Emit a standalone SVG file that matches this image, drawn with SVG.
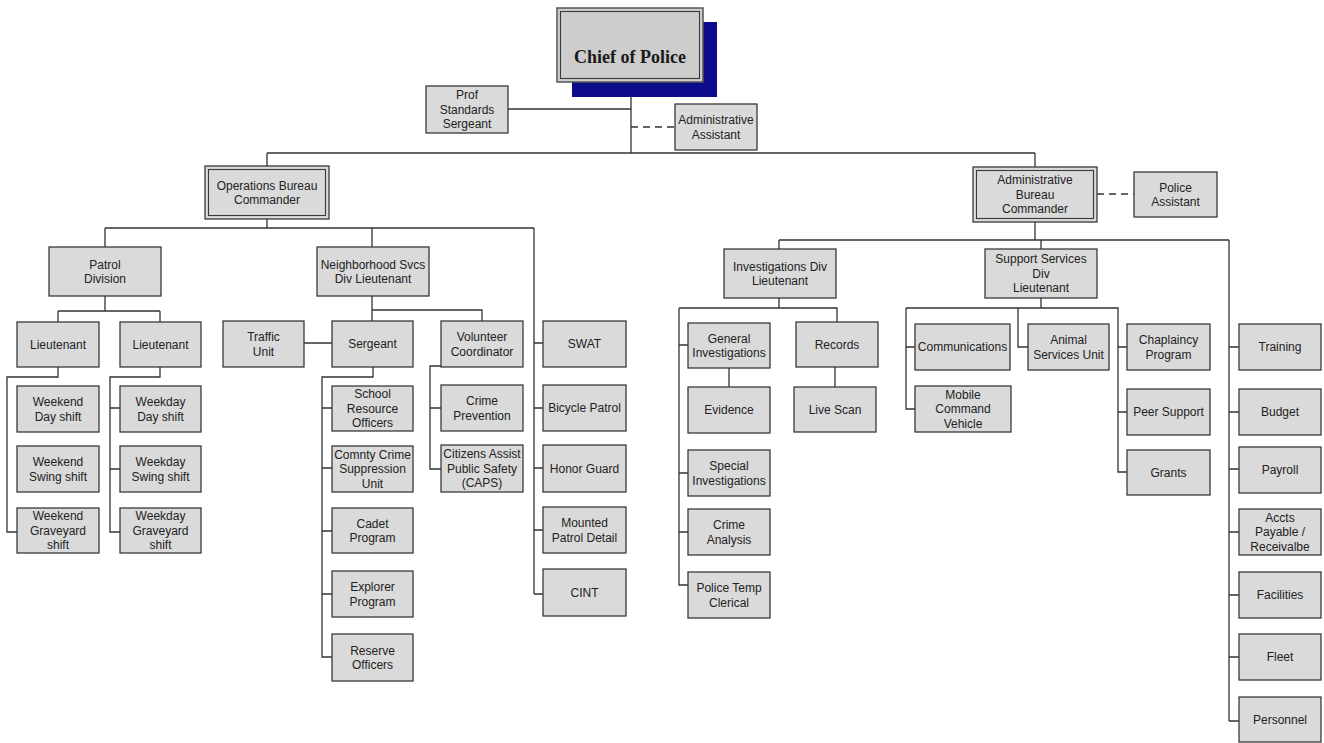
<svg xmlns="http://www.w3.org/2000/svg" width="1324" height="743" viewBox="0 0 1324 743">
<style>
  .box { fill: #dadada; stroke: #3a3a3a; stroke-width: 1.3; }
  .inner { fill: none; stroke: #3a3a3a; stroke-width: 1.1; }
  .lbl { font-family: "Liberation Sans", Arial, sans-serif; font-size: 12px; fill: #222; text-anchor: middle; }
  .chief { font-family: "Liberation Serif", "Times New Roman", serif; font-size: 18px; font-weight: bold; fill: #1a1a1a; text-anchor: middle; }
  .wire { fill: none; stroke: #333; stroke-width: 1.3; }
  .dash { fill: none; stroke: #333; stroke-width: 1.3; stroke-dasharray: 7 5; }
</style>
<rect width="1324" height="743" fill="#ffffff"/>

<!-- reporting lines -->
<g id="connectors">
  <path class="wire" d="M631,82 V153 M267,153 H1035 M267,153 V166 M1035,153 V167 M508,109 H631"/>
  <path class="dash" d="M631,127 H675"/>
  <path class="dash" d="M1097,194 H1134"/>
  <!-- operations bureau -->
  <path class="wire" d="M267,219 V228 M105,228 H534 M105,228 V247 M372,228 V247 M534,228 V594"/>
  <path class="wire" d="M534,343 H543 M534,408 H543 M534,468 H543 M534,530 H543 M534,594 H543"/>
  <path class="wire" d="M105,296 V311 M58,311 H160 M58,311 V322 M160,311 V322"/>
  <path class="wire" d="M58,367 V377 H7 V532 H17"/>
  <path class="wire" d="M160,367 V377 H110 V532 H120 M110,408 H120 M110,469 H120"/>
  <path class="wire" d="M372,296 V310 H482 V321 M372,310 V321 M304,343 H332"/>
  <path class="wire" d="M373,367 V377 H322 V657 H332 M322,408 H332 M322,468 H332 M322,531 H332 M322,594 H332"/>
  <path class="wire" d="M441,366 H430 V469 H441 M430,408 H441"/>
  <!-- administrative bureau -->
  <path class="wire" d="M1035,222 V240 M779,240 H1229 M779,240 V249 M1041,240 V249 M1229,240 V721"/>
  <path class="wire" d="M1229,347 H1239 M1229,412 H1239 M1229,469 H1239 M1229,532 H1239 M1229,595 H1239 M1229,657 H1239 M1229,721 H1239"/>
  <path class="wire" d="M779,298 V308 M679,308 H837 V322 M679,308 V585 H688 M679,345 H688 M679,473 H688 M679,532 H688"/>
  <path class="wire" d="M729,368 V387 M835,367 V387"/>
  <path class="wire" d="M1041,298 V308 M906,308 H1118 V472 H1127 M906,308 V409 H915 M906,347 H915 M1018,308 V347 H1028 M1118,347 H1127 M1118,412 H1127"/>
</g>

<g id="chief-of-police">
  <rect x="572" y="22" width="145" height="75" fill="#0c0c8a"/>
  <rect x="557" y="8" width="146" height="74" fill="#cdcdcd" stroke="#555" stroke-width="1.5"/>
  <rect x="560.5" y="11.5" width="139" height="67" class="inner"/>
  <text class="chief" x="630" y="63">Chief of Police</text>
</g>

<g id="prof-standards-sergeant">
  <rect class="box" x="426" y="86" width="82" height="47"/>
  <text class="lbl"><tspan x="467" y="99.3">Prof</tspan><tspan x="467" y="113.8">Standards</tspan><tspan x="467" y="128.3">Sergeant</tspan></text>
</g>

<g id="administrative-assistant">
  <rect class="box" x="675" y="104" width="82" height="46"/>
  <text class="lbl"><tspan x="716" y="124">Administrative</tspan><tspan x="716" y="138.5">Assistant</tspan></text>
</g>

<g id="operations-bureau-commander">
  <rect class="box" x="205" y="166" width="124" height="53"/>
  <rect class="inner" x="208.5" y="169.5" width="117" height="46"/>
  <text class="lbl"><tspan x="267" y="189.5">Operations Bureau</tspan><tspan x="267" y="204">Commander</tspan></text>
</g>

<g id="administrative-bureau-commander">
  <rect class="box" x="973" y="167" width="124" height="55"/>
  <rect class="inner" x="976.5" y="170.5" width="117" height="48"/>
  <text class="lbl"><tspan x="1035" y="184.3">Administrative</tspan><tspan x="1035" y="198.8">Bureau</tspan><tspan x="1035" y="213.3">Commander</tspan></text>
</g>

<g id="police-assistant">
  <rect class="box" x="1134" y="172" width="83" height="45"/>
  <text class="lbl"><tspan x="1175.5" y="191.5">Police</tspan><tspan x="1175.5" y="206">Assistant</tspan></text>
</g>

<g id="patrol-division">
  <rect class="box" x="49" y="247" width="112" height="49"/>
  <text class="lbl"><tspan x="105" y="268.5">Patrol</tspan><tspan x="105" y="283">Division</tspan></text>
</g>

<g id="neighborhood-svcs">
  <rect class="box" x="317" y="247" width="112" height="49"/>
  <text class="lbl"><tspan x="373" y="268.5">Neighborhood Svcs</tspan><tspan x="373" y="283">Div Lieutenant</tspan></text>
</g>

<g id="lieutenant-weekend">
  <rect class="box" x="17" y="322" width="82" height="45"/>
  <text class="lbl" x="58" y="348.8">Lieutenant</text>
</g>
<g id="lieutenant-weekday">
  <rect class="box" x="120" y="322" width="81" height="45"/>
  <text class="lbl" x="160.5" y="348.8">Lieutenant</text>
</g>

<g id="weekend-day-shift">
  <rect class="box" x="17" y="386" width="82" height="46"/>
  <text class="lbl"><tspan x="58" y="406">Weekend</tspan><tspan x="58" y="420.5">Day shift</tspan></text>
</g>
<g id="weekend-swing-shift">
  <rect class="box" x="17" y="446" width="82" height="46"/>
  <text class="lbl"><tspan x="58" y="466">Weekend</tspan><tspan x="58" y="480.5">Swing shift</tspan></text>
</g>
<g id="weekend-graveyard-shift">
  <rect class="box" x="17" y="508" width="82" height="45"/>
  <text class="lbl"><tspan x="58" y="520.3">Weekend</tspan><tspan x="58" y="534.8">Graveyard</tspan><tspan x="58" y="549.3">shift</tspan></text>
</g>
<g id="weekday-day-shift">
  <rect class="box" x="120" y="386" width="81" height="46"/>
  <text class="lbl"><tspan x="160.5" y="406">Weekday</tspan><tspan x="160.5" y="420.5">Day shift</tspan></text>
</g>
<g id="weekday-swing-shift">
  <rect class="box" x="120" y="446" width="81" height="46"/>
  <text class="lbl"><tspan x="160.5" y="466">Weekday</tspan><tspan x="160.5" y="480.5">Swing shift</tspan></text>
</g>
<g id="weekday-graveyard-shift">
  <rect class="box" x="120" y="508" width="81" height="45"/>
  <text class="lbl"><tspan x="160.5" y="520.3">Weekday</tspan><tspan x="160.5" y="534.8">Graveyard</tspan><tspan x="160.5" y="549.3">shift</tspan></text>
</g>

<g id="traffic-unit">
  <rect class="box" x="223" y="321" width="81" height="46"/>
  <text class="lbl"><tspan x="263.5" y="341">Traffic</tspan><tspan x="263.5" y="355.5">Unit</tspan></text>
</g>
<g id="sergeant">
  <rect class="box" x="332" y="321" width="81" height="46"/>
  <text class="lbl" x="372.5" y="348.3">Sergeant</text>
</g>
<g id="volunteer-coordinator">
  <rect class="box" x="441" y="321" width="82" height="46"/>
  <text class="lbl"><tspan x="482" y="341">Volunteer</tspan><tspan x="482" y="355.5">Coordinator</tspan></text>
</g>
<g id="swat">
  <rect class="box" x="543" y="321" width="83" height="46"/>
  <text class="lbl" x="584.5" y="348.3">SWAT</text>
</g>

<g id="school-resource-officers">
  <rect class="box" x="332" y="386" width="81" height="45"/>
  <text class="lbl"><tspan x="372.5" y="398.3">School</tspan><tspan x="372.5" y="412.8">Resource</tspan><tspan x="372.5" y="427.3">Officers</tspan></text>
</g>
<g id="comnty-crime-suppression">
  <rect class="box" x="332" y="446" width="81" height="46"/>
  <text class="lbl"><tspan x="372.5" y="458.8">Comnty Crime</tspan><tspan x="372.5" y="473.3">Suppression</tspan><tspan x="372.5" y="487.8">Unit</tspan></text>
</g>
<g id="cadet-program">
  <rect class="box" x="332" y="508" width="81" height="45"/>
  <text class="lbl"><tspan x="372.5" y="527.5">Cadet</tspan><tspan x="372.5" y="542">Program</tspan></text>
</g>
<g id="explorer-program">
  <rect class="box" x="332" y="571" width="81" height="46"/>
  <text class="lbl"><tspan x="372.5" y="591">Explorer</tspan><tspan x="372.5" y="605.5">Program</tspan></text>
</g>
<g id="reserve-officers">
  <rect class="box" x="332" y="634" width="81" height="47"/>
  <text class="lbl"><tspan x="372.5" y="654.5">Reserve</tspan><tspan x="372.5" y="669">Officers</tspan></text>
</g>

<g id="crime-prevention">
  <rect class="box" x="441" y="385" width="82" height="46"/>
  <text class="lbl"><tspan x="482" y="405">Crime</tspan><tspan x="482" y="419.5">Prevention</tspan></text>
</g>
<g id="caps">
  <rect class="box" x="441" y="445" width="82" height="47"/>
  <text class="lbl"><tspan x="482" y="458.3">Citizens Assist</tspan><tspan x="482" y="472.8">Public Safety</tspan><tspan x="482" y="487.3">(CAPS)</tspan></text>
</g>

<g id="bicycle-patrol">
  <rect class="box" x="543" y="385" width="83" height="46"/>
  <text class="lbl" x="584.5" y="412.3">Bicycle Patrol</text>
</g>
<g id="honor-guard">
  <rect class="box" x="543" y="445" width="83" height="47"/>
  <text class="lbl" x="584.5" y="472.8">Honor Guard</text>
</g>
<g id="mounted-patrol-detail">
  <rect class="box" x="543" y="507" width="83" height="46"/>
  <text class="lbl"><tspan x="584.5" y="527">Mounted</tspan><tspan x="584.5" y="541.5">Patrol Detail</tspan></text>
</g>
<g id="cint">
  <rect class="box" x="543" y="569" width="83" height="47"/>
  <text class="lbl" x="584.5" y="596.8">CINT</text>
</g>

<g id="investigations-div">
  <rect class="box" x="724" y="249" width="112" height="49"/>
  <text class="lbl"><tspan x="780" y="270.5">Investigations Div</tspan><tspan x="780" y="285">Lieutenant</tspan></text>
</g>
<g id="support-services-div">
  <rect class="box" x="985" y="249" width="112" height="49"/>
  <text class="lbl"><tspan x="1041" y="263.3">Support Services</tspan><tspan x="1041" y="277.8">Div</tspan><tspan x="1041" y="292.3">Lieutenant</tspan></text>
</g>

<g id="general-investigations">
  <rect class="box" x="688" y="323" width="82" height="45"/>
  <text class="lbl"><tspan x="729" y="342.5">General</tspan><tspan x="729" y="357">Investigations</tspan></text>
</g>
<g id="evidence">
  <rect class="box" x="688" y="387" width="82" height="46"/>
  <text class="lbl" x="729" y="414.3">Evidence</text>
</g>
<g id="special-investigations">
  <rect class="box" x="688" y="450" width="82" height="46"/>
  <text class="lbl"><tspan x="729" y="470">Special</tspan><tspan x="729" y="484.5">Investigations</tspan></text>
</g>
<g id="crime-analysis">
  <rect class="box" x="688" y="509" width="82" height="46"/>
  <text class="lbl"><tspan x="729" y="529">Crime</tspan><tspan x="729" y="543.5">Analysis</tspan></text>
</g>
<g id="police-temp-clerical">
  <rect class="box" x="688" y="572" width="82" height="46"/>
  <text class="lbl"><tspan x="729" y="592">Police Temp</tspan><tspan x="729" y="606.5">Clerical</tspan></text>
</g>

<g id="records">
  <rect class="box" x="796" y="322" width="82" height="45"/>
  <text class="lbl" x="837" y="348.8">Records</text>
</g>
<g id="live-scan">
  <rect class="box" x="794" y="387" width="82" height="45"/>
  <text class="lbl" x="835" y="413.8">Live Scan</text>
</g>

<g id="communications">
  <rect class="box" x="915" y="324" width="95" height="46"/>
  <text class="lbl" x="962.5" y="351.3">Communications</text>
</g>
<g id="mobile-command-vehicle">
  <rect class="box" x="915" y="386" width="96" height="46"/>
  <text class="lbl"><tspan x="963" y="398.8">Mobile</tspan><tspan x="963" y="413.3">Command</tspan><tspan x="963" y="427.8">Vehicle</tspan></text>
</g>
<g id="animal-services-unit">
  <rect class="box" x="1028" y="324" width="81" height="46"/>
  <text class="lbl"><tspan x="1068.5" y="344">Animal</tspan><tspan x="1068.5" y="358.5">Services Unit</tspan></text>
</g>

<g id="chaplaincy-program">
  <rect class="box" x="1127" y="324" width="83" height="46"/>
  <text class="lbl"><tspan x="1168.5" y="344">Chaplaincy</tspan><tspan x="1168.5" y="358.5">Program</tspan></text>
</g>
<g id="peer-support">
  <rect class="box" x="1127" y="389" width="83" height="46"/>
  <text class="lbl" x="1168.5" y="416.3">Peer Support</text>
</g>
<g id="grants">
  <rect class="box" x="1127" y="450" width="83" height="45"/>
  <text class="lbl" x="1168.5" y="476.8">Grants</text>
</g>

<g id="training">
  <rect class="box" x="1239" y="324" width="82" height="46"/>
  <text class="lbl" x="1280" y="351.3">Training</text>
</g>
<g id="budget">
  <rect class="box" x="1239" y="389" width="82" height="46"/>
  <text class="lbl" x="1280" y="416.3">Budget</text>
</g>
<g id="payroll">
  <rect class="box" x="1239" y="447" width="82" height="46"/>
  <text class="lbl" x="1280" y="474.3">Payroll</text>
</g>
<g id="accts-payable-receivable">
  <rect class="box" x="1239" y="509" width="82" height="46"/>
  <text class="lbl"><tspan x="1280" y="521.8">Accts</tspan><tspan x="1280" y="536.3">Payable /</tspan><tspan x="1280" y="550.8">Receivalbe</tspan></text>
</g>
<g id="facilities">
  <rect class="box" x="1239" y="572" width="82" height="46"/>
  <text class="lbl" x="1280" y="599.3">Facilities</text>
</g>
<g id="fleet">
  <rect class="box" x="1239" y="634" width="82" height="46"/>
  <text class="lbl" x="1280" y="661.3">Fleet</text>
</g>
<g id="personnel">
  <rect class="box" x="1239" y="697" width="82" height="45"/>
  <text class="lbl" x="1280" y="723.8">Personnel</text>
</g>
</svg>
